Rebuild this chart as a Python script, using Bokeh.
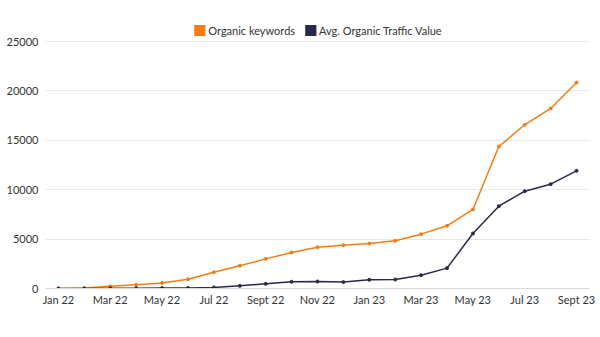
from bokeh.plotting import figure
from bokeh.models import FixedTicker, Range1d, Legend, LegendItem
from bokeh.embed import file_html
from bokeh.resources import INLINE

months = ["Jan 22", "Feb 22", "Mar 22", "Apr 22", "May 22", "Jun 22", "Jul 22", "Aug 22",
          "Sept 22", "Oct 22", "Nov 22", "Dec 22", "Jan 23", "Feb 23", "Mar 23", "Apr 23",
          "May 23", "Jun 23", "Jul 23", "Aug 23", "Sept 23"]
organic_keywords = [0, 40, 220, 380, 560, 940, 1650, 2300, 3000, 3640, 4180, 4380, 4550,
                    4830, 5500, 6350, 8000, 14370, 16570, 18220, 20850]
traffic_value = [0, 0, 20, 30, 40, 50, 100, 270, 470, 680, 710, 650, 880, 910, 1350, 2060,
                 5570, 8330, 9850, 10560, 11910]
y_ticks = [0, 5000, 10000, 15000, 20000, 25000]

ORANGE = "#F57C12"
NAVY = "#272A48"
FONT = "Lato"

x = list(range(len(months)))

p = figure(width=600, height=337, output_backend="svg", toolbar_location=None,
           x_range=Range1d(-0.5, 20.5), y_range=Range1d(0, 28138))
p.min_border_left = 45
p.min_border_right = 11
p.min_border_top = 10
p.min_border_bottom = 49
p.outline_line_color = None
p.background_fill_color = "white"
p.border_fill_color = "white"

l1 = p.line(x, organic_keywords, line_color=ORANGE, line_width=1.5)
s1 = p.scatter(x, organic_keywords, size=3, color=ORANGE)
l2 = p.line(x, traffic_value, line_color=NAVY, line_width=1.5)
s2 = p.scatter(x, traffic_value, size=3, color=NAVY)

# legend swatches (filled squares), drawn outside the visible range
q1 = p.quad(left=[-60], right=[-59], bottom=[-60000], top=[-59000],
            fill_color=ORANGE, line_color=None)
q2 = p.quad(left=[-60], right=[-59], bottom=[-60000], top=[-59000],
            fill_color=NAVY, line_color=None)

legend = Legend(items=[LegendItem(label="Organic keywords", renderers=[q1]),
                       LegendItem(label="Avg. Organic Traffic Value", renderers=[q2])],
                orientation="horizontal", location="top_center",
                background_fill_alpha=0, border_line_color=None,
                label_text_font=FONT, label_text_font_size="11px", label_text_color="#333333",
                glyph_width=14, glyph_height=14, label_standoff=2, spacing=8,
                padding=0, margin=13)
p.add_layout(legend)

p.xaxis.ticker = FixedTicker(ticks=list(range(0, 21, 2)))
p.xaxis.major_label_overrides = {i: m for i, m in enumerate(months)}
p.yaxis.ticker = FixedTicker(ticks=y_ticks)

for ax in (p.xaxis, p.yaxis):
    ax.major_tick_line_color = None
    ax.minor_tick_line_color = None
    ax.major_tick_out = 0
    ax.major_tick_in = 0
    ax.major_label_text_font = FONT
    ax.major_label_text_font_size = "11px"
    ax.major_label_text_color = "#333333"
p.yaxis.axis_line_color = None
p.xaxis.axis_line_color = "#d9d9d9"
p.yaxis.major_label_standoff = 7
p.xaxis.major_label_standoff = 4

p.xgrid.grid_line_color = None
p.ygrid.grid_line_color = "#e8e8e8"
p.ygrid.ticker = FixedTicker(ticks=y_ticks)

open("out.html", "w").write(file_html(p, INLINE))
